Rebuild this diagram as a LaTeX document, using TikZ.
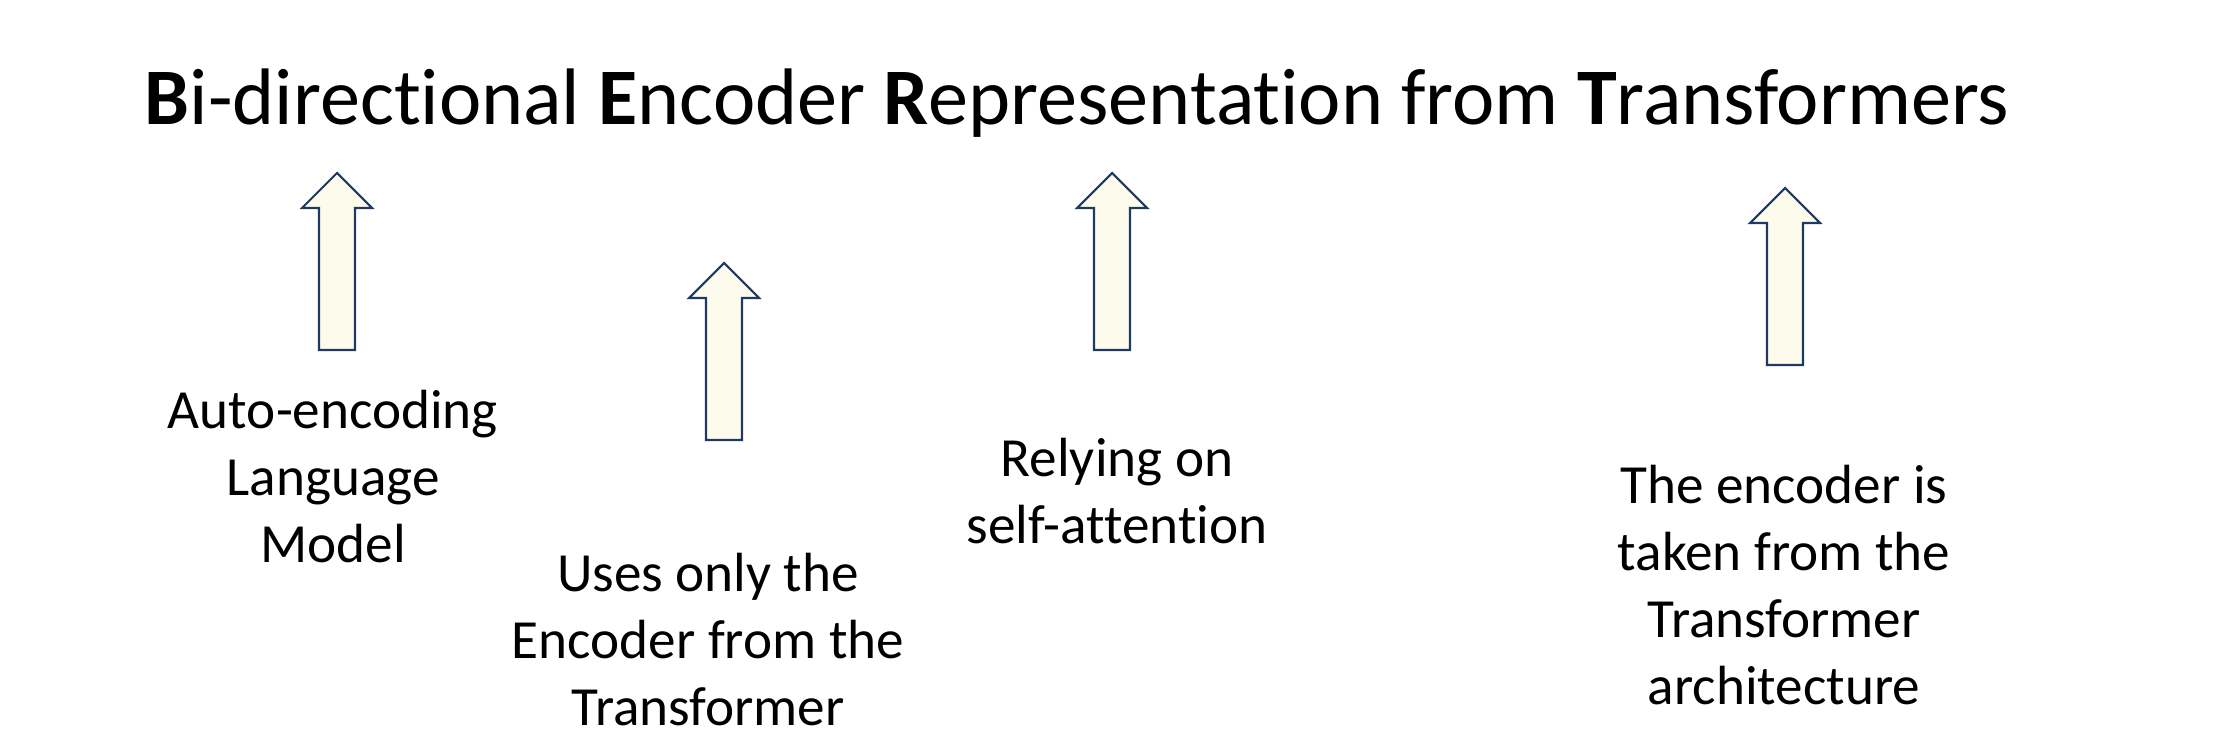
\documentclass[tikz,border=0pt]{standalone}
\usepackage{fontspec}
\setmainfont{Carlito}[Ligatures=NoCommon]
\usetikzlibrary{positioning}

\definecolor{arrowfill}{RGB}{253,251,236}
\definecolor{arrowline}{RGB}{31,56,100}

\begin{document}
\begin{tikzpicture}[
        x=0.01cm, y=-0.01cm,
        title/.style={anchor=base, inner sep=0pt, font=\fontsize{22.8}{27}\selectfont},
        label/.style={anchor=base, inner sep=0pt, align=center, font=\fontsize{15.7}{19}\selectfont},
        arrowbody/.style={draw=arrowline, fill=arrowfill, line width=0.6pt, line join=miter},
        pics/fatarrow/.style={code={
            \draw[arrowbody] (0,0) -- (35,35) -- (18,35) -- (18,#1) -- (-18,#1) -- (-18,35) -- (-35,35) -- cycle;
        }}
    ]
    \useasboundingbox (0,0) rectangle (2222,740);

    % Title
    \node[title] (bert) at (1077,125) {\textbf{B}i-directional \textbf{E}ncoder \textbf{R}epresentation from \textbf{T}ransformers};

    % Arrows
    \pic at (337,173) {fatarrow=177};
    \pic at (724,263) {fatarrow=177};
    \pic at (1112,173) {fatarrow=177};
    \pic at (1785,188) {fatarrow=177};

    % Labels (anchored at the baseline of the last line)
    \node[label] (autoenc) at (333,562) {Auto-encoding\\Language\\Model};
    \node[label] (enconly) at (708,725) {Uses only the\\Encoder from the\\Transformer};
    \node[label] (selfatt) at (1117,543) {Relying on\\self-attention};
    \node[label] (taken) at (1784,704) {The encoder is\\taken from the\\Transformer\\architecture};

\end{tikzpicture}
\end{document}
